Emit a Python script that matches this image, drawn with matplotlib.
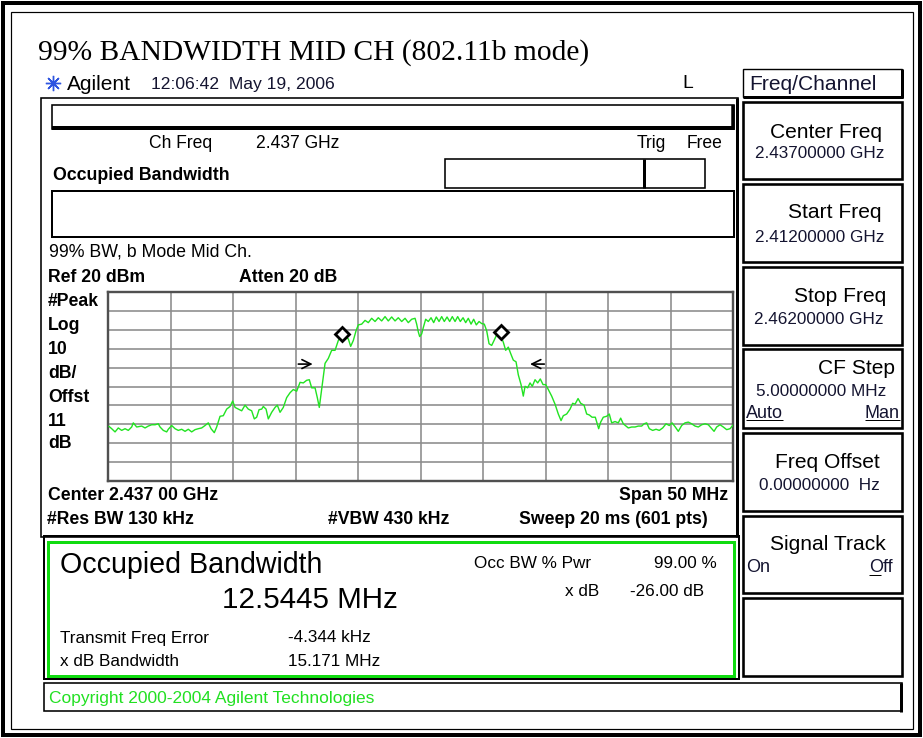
import matplotlib
matplotlib.use('Agg')
import matplotlib.pyplot as plt
from matplotlib.patches import Rectangle

# ---------------- data ----------------
freq_offset_mhz = [
    -24.94, -24.73, -24.46, -24.2, -23.93, -23.66, -23.4, -23.13, -23.0, -22.73,
    -22.33, -22.06, -21.8, -21.53, -21.26, -21.0, -20.86, -20.6, -20.33, -20.2,
    -19.93, -19.66, -19.4, -19.13, -18.86, -18.6, -18.33, -18.06, -17.8, -17.53,
    -17.26, -17.0, -16.78, -16.52, -16.33, -16.06, -15.8, -15.53, -15.26, -15.05,
    -14.86, -14.6, -14.33, -14.06, -13.8, -13.53, -13.32, -13.13, -12.94, -12.73,
    -12.6, -12.38, -12.2, -11.93, -11.66, -11.48, -11.26, -11.0, -10.73, -10.46,
    -10.2, -9.93, -9.66, -9.4, -9.13, -8.92, -8.73, -8.46, -8.28, -8.12,
    -7.93, -7.66, -7.4, -7.13, -6.86, -6.6, -6.33, -6.06, -5.8, -5.61,
    -5.4, -5.18, -5.0, -4.73, -4.46, -4.2, -3.93, -3.66, -3.4, -3.13,
    -2.86, -2.6, -2.33, -2.06, -1.8, -1.53, -1.26, -1.0, -0.73, -0.46,
    -0.33, -0.2, -0.09, 0.07, 0.2, 0.39, 0.6, 0.82, 1.03, 1.24,
    1.46, 1.67, 1.88, 2.1, 2.31, 2.52, 2.74, 2.95, 3.16, 3.38,
    3.59, 3.8, 4.02, 4.23, 4.44, 4.66, 4.87, 5.08, 5.27, 5.46,
    5.67, 5.88, 6.1, 6.34, 6.6, 6.79, 7.0, 7.19, 7.4, 7.62,
    7.8, 8.02, 8.2, 8.34, 8.55, 8.74, 8.92, 9.14, 9.35, 9.56,
    9.78, 9.99, 10.2, 10.47, 10.74, 11.0, 11.22, 11.4, 11.67, 11.94,
    12.15, 12.34, 12.58, 12.79, 13.06, 13.27, 13.48, 13.7, 13.96, 14.23,
    14.39, 14.6, 14.87, 15.08, 15.27, 15.54, 15.8, 15.99, 16.2, 16.42,
    16.6, 16.87, 17.14, 17.4, 17.67, 17.86, 18.07, 18.28, 18.55, 18.82,
    19.08, 19.35, 19.62, 19.88, 20.1, 20.36, 20.6, 20.87, 21.14, 21.4,
    21.67, 21.94, 22.2, 22.47, 22.74, 23.0, 23.27, 23.46, 23.67, 23.94,
    24.2, 24.47, 24.74, 25.0,
]
level_dbm = [
    -51.2, -52.4, -54.1, -52.0, -53.3, -52.4, -53.3, -51.5, -49.3, -51.5,
    -51.0, -52.0, -51.0, -50.3, -50.3, -49.8, -51.5, -53.3, -54.1, -52.7,
    -50.7, -52.4, -53.3, -52.7, -53.8, -52.7, -54.1, -52.9, -52.4, -52.0,
    -50.7, -49.3, -52.4, -54.5, -51.5, -45.8, -45.5, -42.0, -40.6, -37.7,
    -41.1, -42.0, -42.9, -39.9, -42.0, -42.9, -47.2, -46.3, -42.3, -42.0,
    -40.6, -42.0, -47.2, -43.7, -41.1, -39.9, -43.7, -41.1, -35.9, -33.3,
    -31.6, -32.5, -27.8, -28.1, -26.7, -26.4, -30.7, -30.7, -35.9, -41.1,
    -31.6, -17.7, -15.1, -10.8, -10.8, -5.6, -2.1, -3.9, -4.7, -8.7,
    -5.6, -0.4, 2.7, 3.1, 5.1, 3.9, 6.2, 4.5, 6.5, 4.8,
    7.1, 4.8, 6.9, 4.8, 6.5, 4.5, 6.2, 3.9, 5.7, 6.2,
    3.1, -1.0, -3.5, -2.1, 1.3, 5.7, 4.5, 6.5, 3.9, 6.9,
    4.5, 7.1, 4.5, 6.9, 4.5, 7.1, 4.5, 7.1, 4.5, 6.5,
    3.9, 6.2, 3.1, 5.7, 2.7, 4.5, 3.4, 3.1, -0.4, -7.3,
    -8.2, -5.3, -2.1, -2.1, -6.5, -10.8, -9.1, -12.5, -16.0, -16.9,
    -23.8, -29.0, -35.1, -29.9, -30.7, -28.1, -29.9, -26.4, -28.1, -26.0,
    -29.0, -29.0, -31.6, -35.1, -39.4, -44.6, -48.1, -45.5, -44.6, -42.0,
    -38.9, -39.4, -36.4, -38.9, -39.9, -44.6, -45.1, -46.3, -46.3, -52.4,
    -48.9, -46.3, -45.8, -44.6, -49.3, -48.6, -49.3, -46.8, -49.8, -51.0,
    -52.0, -51.5, -51.5, -51.0, -51.0, -49.8, -49.3, -52.4, -53.3, -52.7,
    -53.3, -52.0, -49.8, -50.7, -49.3, -51.5, -53.8, -50.7, -49.3, -48.9,
    -49.8, -51.0, -51.5, -50.3, -49.8, -50.3, -52.4, -53.8, -51.5, -50.3,
    -51.5, -52.9, -52.4, -50.3,
]
marker_freq = [-6.33, 6.39]
marker_level = [-2.1, -1.3]
arrow_tip_freq = [-8.65, 8.74]
arrow_tail_freq = [-9.8, 9.88]
arrow_level = [-18.1, -18.1]

span_mhz = 50
ref_level = 20
db_per_div = 10
left_labels = ['#Peak', 'Log', '10', 'dB/', 'Offst', '11', 'dB']

# ---------------- figure ----------------
W, H = 923, 738
fig = plt.figure(figsize=(W / 100, H / 100), dpi=100)
fig.patch.set_facecolor('white')
bg = fig.add_axes([0, 0, 1, 1])
bg.set_xlim(0, W)
bg.set_ylim(H, 0)
bg.axis('off')
renderer = fig.canvas.get_renderer()
PT = 72 / 100.0
SANS = 'Liberation Sans'
NAVY = '#141430'


def rect(x0, y0, x1, y1, lw=1.5, color='black', z=2):
    bg.add_patch(Rectangle((x0, y0), x1 - x0, y1 - y0, fill=False,
                           lw=lw * PT, edgecolor=color, zorder=z))


def hline(x0, x1, y, lw, color='black'):
    bg.plot([x0, x1], [y, y], lw=lw * PT, color=color, solid_capstyle='butt', zorder=3)


def vline(x, y0, y1, lw, color='black'):
    bg.plot([x, x], [y0, y1], lw=lw * PT, color=color, solid_capstyle='butt', zorder=3)


def fit_size(s, width, weight='normal', family=SANS):
    t = bg.text(0, 0, s, fontsize=10, fontweight=weight, family=family)
    w = t.get_window_extent(renderer).width
    t.remove()
    return 10 * width / w


def txt(s, x, y, width=None, ha='left', weight='normal', color='black', family=SANS,
        va='center', size=None):
    if size is None:
        size = fit_size(s, width, weight, family)
    return bg.text(x, y, s, ha=ha, va=va, fontsize=size, fontweight=weight,
                   color=color, family=family, zorder=5)


def underline(t, frac0=0.0, frac1=1.0, dy=2):
    bb = t.get_window_extent(renderer)
    inv = bg.transData.inverted()
    (x0, y0), (x1, y1) = inv.transform([(bb.x0, bb.y0), (bb.x1, bb.y1)])
    xa = x0 + (x1 - x0) * frac0
    xb = x0 + (x1 - x0) * frac1
    yy = max(y0, y1) - dy
    hline(xa, xb, yy, 1.0)


# outer page frame
rect(3, 3, 920, 735, lw=4)
rect(11, 12, 913, 729, lw=1.2)

# title
txt('99% BANDWIDTH MID CH (802.11b mode)', 38, 60, 550, family='Liberation Serif', va='baseline')

# header line
bg.plot([53], [83], marker=(8, 2, 0), ms=11, color='#2f55e0', mew=1.0, zorder=5)
bg.plot([53], [83], marker='o', ms=3, color='#2f55e0', zorder=5)
hs = fit_size('12:06:42  May 19, 2006', 184)
txt('Agilent', 67, 84, 64)
txt('12:06:42  May 19, 2006', 151, 84, size=hs, color=NAVY)
txt('L', 682, 84, size=hs * 1.1)

# ---------------- main screen ----------------
rect(41, 98, 738, 537, lw=1.6)
vline(737, 98, 537, 3)

# top bar
rect(52, 105, 734, 129, lw=1.6)
hline(52, 734, 128, 4)
vline(733, 105, 130, 3.5)

ms_ = fit_size('2.437 GHz', 84)
txt('Ch Freq', 149, 144, size=ms_)
txt('2.437 GHz', 256, 144, size=ms_)
txt('Trig', 637, 144, size=ms_)
txt('Free', 722, 144, size=ms_, ha='right')
txt('Occupied Bandwidth', 53, 175, 177, weight='bold')

rect(445, 159, 705, 188, lw=1.6)
vline(644, 159, 188, 3)

rect(52, 191, 734, 237, lw=2)

txt('99% BW, b Mode Mid Ch.', 49, 252, 203)
bs = fit_size('Ref 20 dBm', 97, weight='bold')
txt('Ref 20 dBm', 48, 278, size=bs, weight='bold')
txt('Atten 20 dB', 239, 278, size=bs, weight='bold')

for lab, yy in zip(left_labels, [301, 325, 349, 373, 398, 421, 443]):
    txt(lab, 48, yy, size=bs, weight='bold')

txt('Center 2.437 00 GHz', 48, 495, size=bs, weight='bold')
txt('Span 50 MHz', 728, 495, size=bs, ha='right', weight='bold')
txt('#Res BW 130 kHz', 47, 520, size=bs, weight='bold')
txt('#VBW 430 kHz', 328, 520, size=bs, weight='bold')
txt('Sweep 20 ms (601 pts)', 708, 520, size=bs, weight='bold', ha='right')

# result panel
rect(44, 536, 739, 679, lw=2)
rect(48, 542, 734, 676, lw=3, color='#10dc10')
txt('Occupied Bandwidth', 60, 565, 263)
txt('12.5445 MHz', 222, 600, 175)
rs = fit_size('Transmit Freq Error', 150)
txt('Occ BW % Pwr', 474, 563, size=rs)
txt('99.00 %', 717, 563, size=rs, ha='right')
txt('x dB', 599, 592, size=rs, ha='right')
txt('-26.00 dB', 704, 592, size=rs, ha='right')
txt('Transmit Freq Error', 60, 638, size=rs)
txt('-4.344 kHz', 288, 638, size=rs)
txt('x dB Bandwidth', 60, 662, size=rs)
txt('15.171 MHz', 288, 662, size=rs)

# copyright strip
rect(44, 683, 902, 711, lw=1.6)
vline(901, 683, 712, 3)
txt('Copyright 2000-2004 Agilent Technologies', 49, 699, 327, color='#22e022')

# ---------------- right softkey panel ----------------
KX0, KX1 = 743, 902
rect(KX0, 69, KX1, 97, lw=1.4)
hline(KX0, KX1 + 1, 96.5, 3)
vline(KX1, 69, 98, 3)
txt('Freq/Channel', 749, 84, 128, color=NAVY)

boxes = [(102, 179), (184, 262), (267, 345), (349, 428), (433, 511), (516, 593), (598, 676)]
for (y0, y1) in boxes:
    rect(KX0, y0, KX1, y1, lw=2.6)

ks = fit_size('Center Freq', 113)
vs = fit_size('2.43700000 GHz', 130)
txt('Center Freq', 882, 132, size=ks, ha='right')
txt('2.43700000 GHz', 884, 154, size=vs, ha='right', color=NAVY)
txt('Start Freq', 882, 213, size=ks, ha='right')
txt('2.41200000 GHz', 884, 237, size=vs, ha='right', color=NAVY)
txt('Stop Freq', 886, 297, size=ks, ha='right')
txt('2.46200000 GHz', 884, 319, size=vs, ha='right', color=NAVY)
txt('CF Step', 895, 368, size=ks, ha='right')
txt('5.00000000 MHz', 886, 392, size=vs, ha='right', color=NAVY)
t_auto = txt('Auto', 746, 413, size=vs * 1.05, color=NAVY)
underline(t_auto)
t_man = txt('Man', 900, 413, size=vs * 1.05, ha='right', color=NAVY)
underline(t_man)
txt('Freq Offset', 880, 463, size=ks, ha='right')
txt('0.00000000  Hz', 880, 485, size=vs, ha='right', color=NAVY)
txt('Signal Track', 886, 545, size=ks, ha='right')
txt('On', 746, 568, size=vs * 1.05, color=NAVY)
t_off = txt('Off', 893, 568, size=vs * 1.05, ha='right', color=NAVY)
underline(t_off, 0.0, 0.5)

# ---------------- spectrum graticule ----------------
gx0, gx1, gy0, gy1 = 108.3, 733.3, 292.3, 480.7
ax = fig.add_axes([gx0 / W, 1 - gy1 / H, (gx1 - gx0) / W, (gy1 - gy0) / H])
ax.set_facecolor('white')
ax.set_xlim(-span_mhz / 2, span_mhz / 2)
ax.set_ylim(ref_level - 10 * db_per_div, ref_level)
ax.set_xticks([-span_mhz / 2 + i * span_mhz / 10 for i in range(11)])
ax.set_yticks([ref_level - i * db_per_div for i in range(11)])
ax.grid(True, color='#8c8c8c', lw=1.6 * PT)
ax.set_axisbelow(True)
ax.tick_params(length=0, labelbottom=False, labelleft=False)
for sp in ax.spines.values():
    sp.set_color('#505050')
    sp.set_linewidth(2.4 * PT)

ax.plot(freq_offset_mhz, level_dbm, color='#22e322', lw=1.4 * PT, zorder=3)
ax.plot(marker_freq, marker_level, linestyle='none', marker='D', ms=7.5,
        mfc='white', mec='black', mew=2.0, zorder=5)
for tip, tail, lv in zip(arrow_tip_freq, arrow_tail_freq, arrow_level):
    ax.annotate('', xy=(tip, lv), xytext=(tail, lv),
                arrowprops=dict(arrowstyle='->', lw=1.2, color='black',
                                mutation_scale=16, shrinkA=0, shrinkB=0), zorder=5)

fig.savefig('out.png', dpi=100)
